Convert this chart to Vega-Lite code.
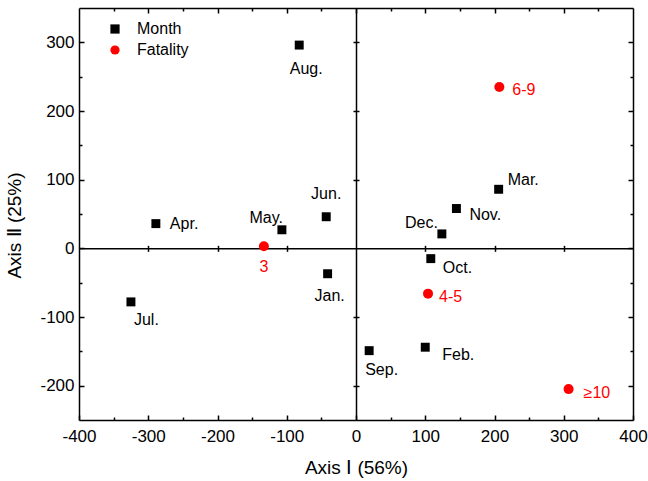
{
  "$schema": "https://vega.github.io/schema/vega-lite/v6.json",
  "width": 554,
  "height": 412,
  "autosize": "none",
  "padding": {"left": 79, "top": 8, "right": 15, "bottom": 61},
  "background": "white",
  "config": {
    "view": {"stroke": null},
    "font": "Liberation Sans",
    "axis": {
      "domainColor": "black",
      "domainWidth": 1.5,
      "tickColor": "black",
      "tickWidth": 1.5,
      "labelFont": "Liberation Sans",
      "labelFontSize": 17,
      "labelColor": "black",
      "titleFont": "Liberation Sans",
      "titleFontSize": 19,
      "titleFontWeight": "normal",
      "titleColor": "black",
      "grid": false
    }
  },
  "data": {
    "values": [
      {"name": "Jan.", "type": "Month", "x": -41, "y": -37},
      {"name": "Feb.", "type": "Month", "x": 100, "y": -144},
      {"name": "Mar.", "type": "Month", "x": 206, "y": 86},
      {"name": "Apr.", "type": "Month", "x": -289, "y": 36},
      {"name": "May.", "type": "Month", "x": -107, "y": 27},
      {"name": "Jun.", "type": "Month", "x": -43, "y": 46},
      {"name": "Jul.", "type": "Month", "x": -325, "y": -78},
      {"name": "Aug.", "type": "Month", "x": -82, "y": 296},
      {"name": "Sep.", "type": "Month", "x": 19, "y": -149},
      {"name": "Oct.", "type": "Month", "x": 108, "y": -15},
      {"name": "Nov.", "type": "Month", "x": 145, "y": 58},
      {"name": "Dec.", "type": "Month", "x": 124, "y": 21},
      {"name": "3", "type": "Fatality", "x": -133, "y": 3},
      {"name": "4-5", "type": "Fatality", "x": 104, "y": -66},
      {"name": "6-9", "type": "Fatality", "x": 207, "y": 235},
      {"name": "≥10", "type": "Fatality", "x": 307, "y": -205}
    ]
  },
  "layer": [
    {
      "mark": {"type": "point", "filled": true, "opacity": 1},
      "encoding": {
        "x": {"field": "x", "type": "quantitative", "scale": {"domain": [-400, 400], "nice": false, "zero": false},
          "axis": {"orient": "bottom", "title": "Axis Ⅰ (56%)", "values": [-400,-350,-300,-250,-200,-150,-100,-50,0,50,100,150,200,250,300,350,400],
            "tickSize": {"condition": {"test": "datum.value % 100 !== 0", "value": -3}, "value": -5},
            "labelExpr": "datum.value % 100 === 0 ? toString(datum.value) : ''", "labelPadding": 13, "titlePadding": 14, "labelFlush": false}},
        "y": {"field": "y", "type": "quantitative", "scale": {"domain": [-250, 350], "nice": false, "zero": false},
          "axis": {"orient": "left", "title": "Axis Ⅱ (25%)", "values": [-200,-150,-100,-50,0,50,100,150,200,250,300],
            "tickSize": {"condition": {"test": "datum.value % 100 !== 0", "value": -3}, "value": -5},
            "labelExpr": "datum.value % 100 === 0 ? toString(datum.value) : ''", "labelPadding": 10, "titlePadding": 15, "titleY": 217, "labelFlush": false}},
        "size": {"condition": {"test": "datum.type === 'Fatality'", "value": 100}, "value": 80},
        "shape": {"field": "type", "type": "nominal", "scale": {"domain": ["Month", "Fatality"], "range": ["square", "circle"]},
          "legend": {"orient": "none", "legendX": 28, "legendY": 13, "title": null, "labelFontSize": 16, "labelFont": "Liberation Sans", "labelColor": "black", "symbolSize": 85, "labelOffset": 14, "rowPadding": 5, "padding": 0, "symbolStrokeWidth": 0}},
        "color": {"field": "type", "type": "nominal", "scale": {"domain": ["Month", "Fatality"], "range": ["#000000", "#ff0000"]}, "legend": {"orient": "none", "legendX": 28, "legendY": 13, "title": null, "labelFontSize": 16, "labelFont": "Liberation Sans", "labelColor": "black", "symbolSize": 85, "labelOffset": 14, "rowPadding": 5, "padding": 0, "symbolStrokeWidth": 0}}
      }
    },
    {
      "mark": {"type": "point", "opacity": 0},
      "encoding": {
        "x": {"field": "x", "type": "quantitative", "scale": {"domain": [-400, 400], "nice": false, "zero": false},
          "axis": {"orient": "top", "title": null, "labels": false, "values": [-350,-300,-250,-200,-150,-100,-50,0,50,100,150,200,250,300,350],
            "tickSize": {"condition": {"test": "datum.value % 100 !== 0", "value": -3}, "value": -5}}},
        "y": {"field": "y", "type": "quantitative", "scale": {"domain": [-250, 350], "nice": false, "zero": false},
          "axis": {"orient": "right", "title": null, "labels": false, "values": [-200,-150,-100,-50,0,50,100,150,200,250,300],
            "tickSize": {"condition": {"test": "datum.value % 100 !== 0", "value": -3}, "value": -5}}}
      }
    },
    {
      "mark": {"type": "point", "opacity": 0},
      "encoding": {
        "x": {"field": "x", "type": "quantitative", "scale": {"domain": [-400, 400], "nice": false, "zero": false},
          "axis": {"orient": "bottom", "title": null, "labels": false, "values": [-300,-200,-100,100,200,300], "tickSize": -3,
            "offset": {"expr": "scale('y', 0) - height"}}},
        "y": {"field": "y", "type": "quantitative", "scale": {"domain": [-250, 350], "nice": false, "zero": false},
          "axis": {"orient": "left", "title": null, "labels": false, "values": [-200,-100,100,200,300], "tickSize": -3,
            "offset": {"expr": "-scale('x', 0)"}}}
      }
    },
    {
      "mark": {"type": "point", "opacity": 0},
      "encoding": {
        "x": {"field": "x", "type": "quantitative", "scale": {"domain": [-400, 400], "nice": false, "zero": false},
          "axis": {"orient": "bottom", "title": null, "labels": false, "domain": false, "values": [-300,-200,-100,100,200,300], "tickSize": 3,
            "offset": {"expr": "scale('y', 0) - height"}}},
        "y": {"field": "y", "type": "quantitative", "scale": {"domain": [-250, 350], "nice": false, "zero": false},
          "axis": {"orient": "left", "title": null, "labels": false, "domain": false, "values": [-200,-100,100,200,300], "tickSize": 3,
            "offset": {"expr": "-scale('x', 0)"}}}
      }
    },
    {
      "encoding": {
        "x": {"field": "x", "type": "quantitative", "scale": {"domain": [-400, 400], "nice": false, "zero": false}, "axis": null},
        "y": {"field": "y", "type": "quantitative", "scale": {"domain": [-250, 350], "nice": false, "zero": false}, "axis": null},
        "text": {"field": "name"}
      },
      "layer": [
        {"transform": [{"filter": "datum.name === 'Aug.'"}], "mark": {"type": "text", "fontSize": 16, "align": "center", "baseline": "middle", "dx": 7, "dy": 24, "fill": "black"}},
        {"transform": [{"filter": "datum.name === 'Apr.'"}], "mark": {"type": "text", "fontSize": 16, "align": "left", "baseline": "middle", "dx": 14, "dy": 0, "fill": "black"}},
        {"transform": [{"filter": "datum.name === 'May.'"}], "mark": {"type": "text", "fontSize": 16, "align": "right", "baseline": "middle", "dx": 1, "dy": -12, "fill": "black"}},
        {"transform": [{"filter": "datum.name === 'Jun.'"}], "mark": {"type": "text", "fontSize": 16, "align": "center", "baseline": "middle", "dx": 0, "dy": -23, "fill": "black"}},
        {"transform": [{"filter": "datum.name === 'Jul.'"}], "mark": {"type": "text", "fontSize": 16, "align": "left", "baseline": "middle", "dx": 3, "dy": 18, "fill": "black"}},
        {"transform": [{"filter": "datum.name === 'Jan.'"}], "mark": {"type": "text", "fontSize": 16, "align": "center", "baseline": "middle", "dx": 2, "dy": 22, "fill": "black"}},
        {"transform": [{"filter": "datum.name === 'Mar.'"}], "mark": {"type": "text", "fontSize": 16, "align": "left", "baseline": "middle", "dx": 9, "dy": -9, "fill": "black"}},
        {"transform": [{"filter": "datum.name === 'Nov.'"}], "mark": {"type": "text", "fontSize": 16, "align": "left", "baseline": "middle", "dx": 13, "dy": 6, "fill": "black"}},
        {"transform": [{"filter": "datum.name === 'Dec.'"}], "mark": {"type": "text", "fontSize": 16, "align": "right", "baseline": "middle", "dx": -4, "dy": -11, "fill": "black"}},
        {"transform": [{"filter": "datum.name === 'Oct.'"}], "mark": {"type": "text", "fontSize": 16, "align": "left", "baseline": "middle", "dx": 12, "dy": 9, "fill": "black"}},
        {"transform": [{"filter": "datum.name === 'Sep.'"}], "mark": {"type": "text", "fontSize": 16, "align": "left", "baseline": "middle", "dx": -4, "dy": 19, "fill": "black"}},
        {"transform": [{"filter": "datum.name === 'Feb.'"}], "mark": {"type": "text", "fontSize": 16, "align": "left", "baseline": "middle", "dx": 17, "dy": 8, "fill": "black"}},
        {"transform": [{"filter": "datum.name === '3'"}], "mark": {"type": "text", "fontSize": 16, "align": "center", "baseline": "middle", "dx": 0, "dy": 21, "fill": "#ff0000"}},
        {"transform": [{"filter": "datum.name === '6-9'"}], "mark": {"type": "text", "fontSize": 16, "align": "left", "baseline": "middle", "dx": 13, "dy": 3, "fill": "#ff0000"}},
        {"transform": [{"filter": "datum.name === '4-5'"}], "mark": {"type": "text", "fontSize": 16, "align": "left", "baseline": "middle", "dx": 11, "dy": 3, "fill": "#ff0000"}},
        {"transform": [{"filter": "datum.name === '≥10'"}], "mark": {"type": "text", "fontSize": 16, "align": "left", "baseline": "middle", "dx": 15, "dy": 4, "fill": "#ff0000"}}
      ]
    }
  ],
  "resolve": {"axis": {"x": "independent", "y": "independent"}}
}
